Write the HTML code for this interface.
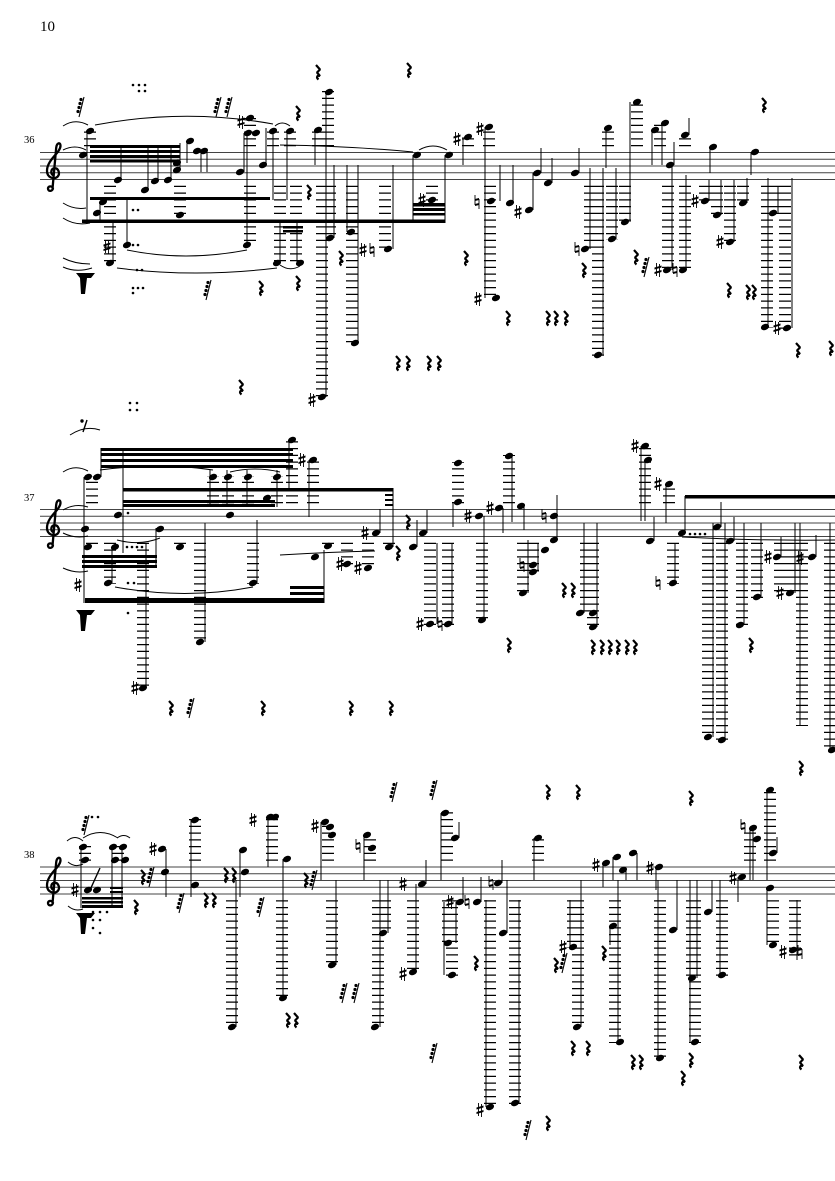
<!DOCTYPE html>
<html><head><meta charset="utf-8"><style>
html,body{margin:0;padding:0;background:#fff}
svg{display:block}
.st{stroke:#444;stroke-width:1;fill:none}
.s{stroke:#000;stroke-width:1;fill:none}
.lg{stroke:#000;stroke-width:12;stroke-dasharray:1.25 5.5;fill:none}
.sl{fill:none;stroke:#000;stroke-width:1}
.n{font-family:"Liberation Serif",serif}
.m{fill:none;stroke:none}
</style></head><body>
<svg width="835" height="1181" viewBox="0 0 835 1181" xmlns="http://www.w3.org/2000/svg">
<defs>
<marker id="hd" markerUnits="userSpaceOnUse" overflow="visible" orient="0" markerWidth="1" markerHeight="1"><ellipse rx="4.2" ry="3" transform="rotate(-22)" fill="#000"/></marker>
<marker id="dt" markerUnits="userSpaceOnUse" overflow="visible" orient="0" markerWidth="1" markerHeight="1"><circle r="1.3" fill="#000"/></marker>
<marker id="qr" markerUnits="userSpaceOnUse" overflow="visible" orient="0" markerWidth="1" markerHeight="1"><path d="M-1,-7l4 4.5-3 3 3 3.5c-3-1-4 1.5-1.5 3.5" fill="none" stroke="#000" stroke-width="2.2" stroke-linejoin="bevel"/></marker>
<marker id="tr" markerUnits="userSpaceOnUse" overflow="visible" orient="0" markerWidth="1" markerHeight="1"><path d="M4,-10L-1,10" stroke="#000" stroke-width="1.1"/><circle cx="1" cy="-7.5" r="1.6" fill="#000"/><circle cx="0" cy="-3.5" r="1.6" fill="#000"/><circle cx="-1" cy="0.5" r="1.6" fill="#000"/><circle cx="-2" cy="4.5" r="1.6" fill="#000"/></marker>
<marker id="sh" markerUnits="userSpaceOnUse" overflow="visible" orient="0" markerWidth="1" markerHeight="1"><path d="M-1.5,-7v13M1.5,-6v13" stroke="#000" stroke-width="0.9" fill="none"/><path d="M-3.5,-.5l7-2v-2l-7 2zm0 4.5l7-2v-2l-7 2z" fill="#000"/></marker>
<marker id="na" markerUnits="userSpaceOnUse" overflow="visible" orient="0" markerWidth="1" markerHeight="1"><path d="M-2,-7v10M2,-3v10" stroke="#000" stroke-width="0.9" fill="none"/><path d="M-2,-1l4-1v-2l-4 1zm0 5l4-1v-2l-4 1z" fill="#000"/></marker>
<marker id="cl" markerUnits="userSpaceOnUse" overflow="visible" orient="0" markerWidth="1" markerHeight="1"><path d="M1,15c0,4 -5,4 -5,1c0,-3 4,-3 4,-1m0.5,1l3.7,-41c0.5,-5 4.3,-6 4.3,-2c0,7 -13.5,14 -13.5,25c0,7 7,9 10.5,6c3,-3 1,-9 -3.5,-8.5c-3.5,1 -3.5,6 -0.5,7" fill="none" stroke="#000" stroke-width="2.3"/></marker>
</defs>
<rect width="835" height="1181" fill="#fff"/>
<text class="n" x="40" y="31" font-size="15">10</text>
<text class="n" x="24" y="143" font-size="10.5">36</text>
<text class="n" x="24" y="501" font-size="10.5">37</text>
<text class="n" x="24" y="858" font-size="10.5">38</text>

<path class="st" d="M40 152.5H835M40 159.25H835M40 166H835M40 172.75H835M40 179.5H835M40 509.5H835M40 516.25H835M40 523H835M40 529.75H835M40 536.5H835M40 867H835M40 873.75H835M40 880.5H835M40 887.25H835M40 894H835"/>

<path class="m" marker-start="url(#cl)" marker-mid="url(#cl)" marker-end="url(#cl)" d="M52 172.75L52 529.75L52 887.25"/>

<path class="lg" d="M110 185.75V264M180 185.75V216M250 185.75V246M280 185.75V264M296 185.75V264M322 185.75V398M330 185.75V239M352 185.75V344M385 185.75V250M432 185.75V201M490 185.75V299M590 185.75V250M598 185.75V356M612 185.75V240M625 185.75V223M668 185.75V271M685 185.75V271M705 185.75V202M717 185.75V216M730 185.75V243M743 185.75V204M767 185.75V328M785 185.75V329M773 185.75V214"/>
<path class="lg" d="M90 146.25V130M250 146.25V117M273 146.25V130M290 146.25V130M328 146.25V91M489 146.25V126M468 146.25V137M608 146.25V127M637 146.25V101M660 146.25V122M685 146.25V134M318 146.25V129"/>
<path class="lg" d="M92 542.75V548M110 542.75V584M143 542.75V689M200 542.75V643M253 542.75V584M180 542.75V548M328 542.75V547M347 542.75V565M368 542.75V569M389 542.75V548M430 542.75V625M448 542.75V625M482 542.75V621M523 542.75V594M533 542.75V573M586 542.75V614M593 542.75V628M673 542.75V584M708 542.75V738M722 542.75V741M742 542.75V626M757 542.75V598M780 542.75V594M792 542.75V594M802 542.75V726M830 542.75V751"/>
<path class="lg" d="M92 503.25V476M213 503.25V476M228 503.25V476M248 503.25V476M277 503.25V476M292 503.25V439M313 503.25V459M458 503.25V462M509 503.25V455M645 503.25V445M669 503.25V483"/>
<path class="lg" d="M232 900.25V1028M282 900.25V999M332 900.25V966M378 900.25V1028M385 900.25V934M413 900.25V973M448 900.25V944M452 900.25V976M490 900.25V1108M515 900.25V1104M573 900.25V948M578 900.25V1028M615 900.25V1043M660 900.25V1059M692 900.25V979M695 900.25V1043M722 900.25V976M773 900.25V946M795 900.25V961"/>
<path class="lg" d="M195 860.75V819M272 860.75V816M328 860.75V821M370 860.75V834M447 860.75V812M538 860.75V837M750 860.75V827M770 860.75V789M85 860.75V846M118 860.75V846"/>

<path class="s" d="M87 131V223M100 202V223M121 147V180M148 147V190M158 147V181M171 147V180M180 143V170M187 141V163M201 151V172M207 151V172M244 133V172M266 128V165M247 133V245M273 131V200M287 131V200M127 200V245M113 223V263M280 223V263M297 223V263M315 130V165M326 92V397M334 165V238M347 165V232M358 165V343M393 165V249M413 155V223M445 155V223M463 137V165M485 127V298M500 165V201M513 165V203M533 173V210M541 148V173M552 158V183M579 148V173M590 168V249M603 168V355M606 128V168M616 168V239M630 102V222M652 130V165M662 123V165M689 118V135M674 142V165M672 165V270M686 175V270M710 147V173M709 180V201M721 180V215M734 180V242M747 178V203M751 152V175M768 178V327M792 178V328M778 187V213"/>
<path class="s" d="M84 477V603M101 448V477M123 448V553M210 470V507M227 470V507M247 470V507M277 470V507M156 528V567M146 543V688M205 523V642M257 520V583M112 547V583M289 440V488M309 460V517M324 550V603M380 509V533M393 488V547M417 520V547M427 510V533M437 543V624M452 543V624M453 502V527M484 516V620M503 508V533M512 456V522M524 506V530M528 540V593M557 495V540M538 543V572M584 523V613M597 523V627M641 446V521M645 460V521M666 483V523M654 517V541M675 543V583M685 496V533M721 502V527M734 517V541M713 523V737M725 523V740M744 523V625M761 523V597M781 537V557M795 523V593M800 523V725M830 523V750M816 535V557"/>
<path class="s" d="M81 847V908M112 847V908M122 847V908M166 849V897M191 820V897M240 850V897M268 817V867M283 859V998M236 880V1027M321 822V880M336 880V965M364 835V880M380 880V1027M388 880V933M426 860V884M416 884V972M441 813V880M459 822V838M463 877V902M481 877V902M444 902V975M456 902V943M502 860V883M507 880V933M486 900V1107M519 900V1103M534 838V880M603 863V887M613 857V880M626 870V880M637 853V880M656 867V890M570 900V947M581 880V1027M618 880V1042M610 926V945M658 880V1058M677 880V930M690 880V1042M697 880V978M712 880V912M720 880V975M738 877V902M750 828V880M753 828V880M767 790V880M777 837V853M767 888V945M797 900V960"/>
<path d="M90 890L100 868M87 420l-4 12" stroke="#000" stroke-width="1.4"/>
<circle cx="82" cy="421" r="1.7" fill="#000"/>

<path fill="#000" d="M90 145h90v3h-90zM90 150h90v3h-90zM90 155h90v3h-90zM90 160h90v2.5h-90zM90 197h180v3h-180zM82 219.5h363v3.5h-363zM413 203h32v3.5h-32zM413 208h32v3h-32zM413 213h32v2.5h-32zM283 226h20v2.5h-20zM283 230h20v2.5h-20zM101 448h192v3h-192zM101 453h192v3h-192zM101 459h192v3h-192zM101 465h192v3h-192zM123 488h270v3.5h-270zM123 500h152v3h-152zM123 504h152v3h-152zM385 494h8v2h-8zM385 499h8v2h-8zM385 504h8v2h-8zM82 555h75v3h-75zM82 560h75v3h-75zM82 565h75v3h-75zM85 598h239v5h-239zM290 586h34v3h-34zM290 592h34v3h-34zM685 495h150v3.5h-150zM82 897h41v2.5h-41zM82 901h41v2.5h-41zM82 905h41v3h-41zM110 887h13v2h-13zM110 891h13v2h-13zM76 273h19l-4 5h-4l-2 16h-4l-1-16zM76 610h19l-4 5h-4l-2 16h-4l-1-16zM76 913h19l-4 5h-4l-2 16h-4l-1-16z"/>

<path class="sl" d="M63,126Q75,118 88,125M63,150Q75,144 86,150M63,203Q74,210 86,208M63,218Q75,226 90,223M63,258Q75,264 90,264M63,267Q76,273 92,268M95,125Q185,108 273,124M127,250Q185,262 247,250M117,268Q195,278 277,268M275,126Q282,120 290,126M280,145Q350,146 413,152M419,150Q433,142 447,150M280,265Q290,272 300,266M63,472Q75,464 88,471M63,510Q75,503 88,507M63,533Q75,539 88,536M63,568Q76,574 88,571M117,540Q140,546 160,538M115,587Q185,600 253,587M100,470Q160,462 213,470M230,472Q255,466 280,472M70,435Q85,425 100,430M682,537Q760,541 835,540M280,555Q330,552 375,551M67,841Q75,834 83,841M68,862Q75,868 83,864M68,906Q75,912 83,909M83,838Q100,827 118,838M117,838Q124,833 130,838"/>

<path class="m" marker-start="url(#hd)" marker-mid="url(#hd)" marker-end="url(#hd)" d="M90 131L83 155L97 213L103 202L118 180L145 190L155 181L168 180L177 170L177 163L190 141L197 151L204 151L240 172L263 165L250 118L248 133L256 133L273 131L290 131L127 245L110 263L180 215L247 245L277 263L300 263L318 130L329 92L330 238L322 397L351 232L355 343L388 249L417 155L449 155L432 200L468 137L489 127L496 298L491 201L510 203L529 210L537 173L548 183L575 173L585 249L598 355L608 128L612 239L625 222L637 102L655 130L665 123L685 135L670 165L667 270L683 270L713 147L705 201L717 215L730 242L743 203L755 152L773 213L765 327L787 328"/>
<path class="m" marker-start="url(#hd)" marker-mid="url(#hd)" marker-end="url(#hd)" d="M88 477L97 477L213 477L228 477L248 477L277 477L267 498L118 515L230 515L85 529L160 529L88 547L115 547L180 547L108 583L253 583L143 688L200 642L292 440L313 460L389 547L315 557L328 546L347 564L368 568L376 533L413 547L423 533L430 624L448 624L458 463L458 502L479 516L482 620L499 508L509 456L521 506L523 593L533 565L533 572L545 550L554 516L554 540L580 613L593 613L593 627L645 446L648 460L669 484L650 541L673 583L682 533L717 527L730 541L708 737L722 740L740 625L757 597L777 557L790 593L812 557L832 750"/>
<path class="m" marker-start="url(#hd)" marker-mid="url(#hd)" marker-end="url(#hd)" d="M83 847L85 860L88 890L97 890L113 847L123 847L115 860L125 860L162 849L165 872L195 820L195 885L243 850L245 872L270 817L275 817L287 859L283 998L232 1027L325 822L330 827L332 835L332 965L367 835L372 848L383 933L375 1027L422 884L413 972L445 813L455 838L460 902L477 902L448 943L452 975L498 883L503 933L490 1107L515 1103L538 838L606 863L617 857L623 870L633 853L659 867L573 947L577 1027L613 926L620 1042L660 1058L673 930L692 978L695 1042L708 912L722 975L742 877L753 828L757 839L770 790L773 853L770 888L773 945L793 950"/>

<path class="m" marker-start="url(#dt)" marker-mid="url(#dt)" marker-end="url(#dt)" d="M133 85L139 85L145 85L139 91L145 91L133 210L138 210L133 245L138 245L137 270L142 270L133 288L138 288L143 288L133 293L130 403L137 403L130 410L137 410L128 513L127 547L132 547L137 547L142 547L128 583L134 583L128 613L690 534L695 534L700 534L705 534L92 817L98 817L93 912L100 912L107 912L93 920L100 920L93 928L100 933"/>

<path class="m" marker-start="url(#qr)" marker-mid="url(#qr)" marker-end="url(#qr)" d="M317 72L408 70L297 113L308 192L340 258L297 283L260 288L465 258L507 318L547 318L555 318L565 318L397 363L407 363L428 363L438 363L583 270L635 257L728 290L747 292L753 292L763 105L797 350L830 348L240 387L170 708L262 708L350 708L390 708L407 522L397 553L563 590L572 590L508 645L592 647L601 647L609 647L617 647L626 647L634 647L750 645L135 907L142 877L205 900L213 900L225 875L233 875L287 1020L295 1020L305 880L475 963L547 1123L547 792L577 792L555 965L572 1048L587 1048L603 953L632 1062L640 1062L690 798L690 1060L682 1078L800 768L800 1062"/>

<path class="m" marker-start="url(#tr)" marker-mid="url(#tr)" marker-end="url(#tr)" d="M80 107L217 107L228 107L207 290L645 267L190 708L85 825L150 877L180 903L260 907L313 880L393 792L433 790L343 993L355 993L433 1053L527 1130L563 963"/>

<path class="m" marker-start="url(#sh)" marker-mid="url(#sh)" marker-end="url(#sh)" d="M312 400L241 122L107 247L422 200L457 139L480 129L478 299L518 212L658 270L695 201L720 242L777 328L363 250L78 585L135 688L302 460L340 564L358 568L365 533L420 624L468 516L490 508L635 446L658 484L768 557L780 593L800 558L75 890L153 849L253 820L315 826L403 884L403 974L450 902L480 1110L563 947L596 865L650 868L733 878L783 952"/>

<path class="m" marker-start="url(#na)" marker-mid="url(#na)" marker-end="url(#na)" d="M372 250L477 202L577 249L675 270L440 624L522 565L544 516L658 583L358 846L467 902L491 883L743 826L800 952"/>
</svg>
</body></html>
